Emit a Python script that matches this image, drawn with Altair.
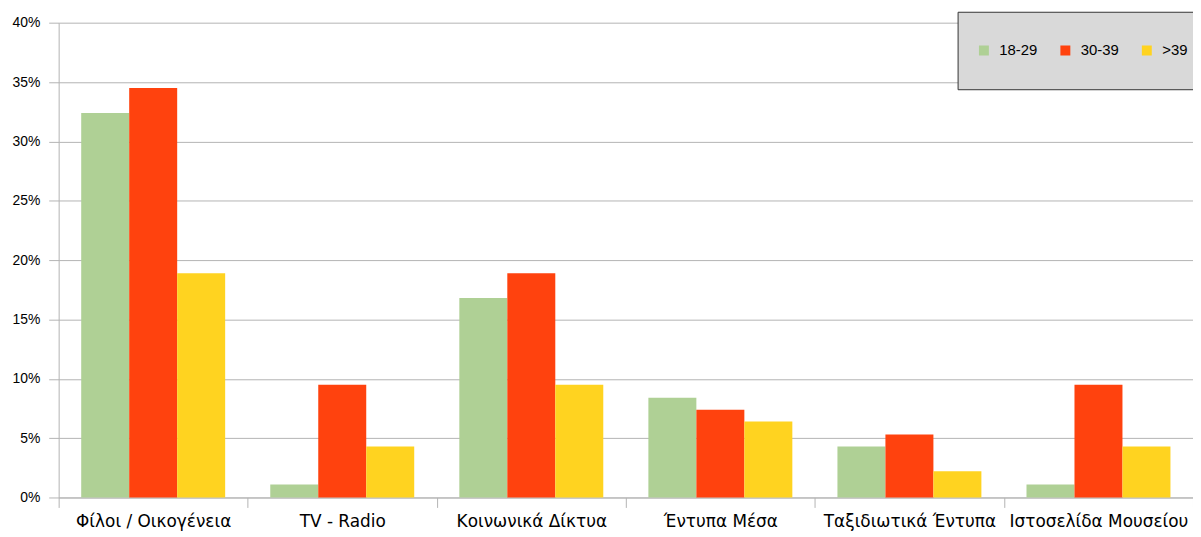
import altair as alt
import pandas as pd

categories = ["Φίλοι / Οικογένεια", "TV - Radio", "Κοινωνικά Δίκτυα",
              "Έντυπα Μέσα", "Ταξιδιωτικά Έντυπα", "Ιστοσελίδα Μουσείου"]
groups = ["18-29", "30-39", ">39"]
values_18_29 = [0.324, 0.011, 0.168, 0.084, 0.043, 0.011]
values_30_39 = [0.345, 0.095, 0.189, 0.074, 0.053, 0.095]
values_39p = [0.189, 0.043, 0.095, 0.064, 0.022, 0.043]
colors = ["#afd095", "#ff420e", "#ffd320"]
y_ticks = [0, 0.05, 0.10, 0.15, 0.20, 0.25, 0.30, 0.35, 0.40]

rows = []
for g, vals in zip(groups, [values_18_29, values_30_39, values_39p]):
    for c, v in zip(categories, vals):
        rows.append({"cat": c, "grp": g, "val": v})
df = pd.DataFrame(rows)

FONT = "Liberation Sans"

chart = alt.Chart(df).mark_bar().encode(
    x=alt.X("cat:N", sort=categories, title=None,
            scale=alt.Scale(paddingInner=0, paddingOuter=0),
            axis=alt.Axis(labelAngle=0, tickBand="extent", tickSize=10,
                          tickColor="#b3b3b3", domainColor="#b3b3b3",
                          labelFontSize=17, labelFont="DejaVu Sans",
                          labelColor="#000000", labelPadding=6, grid=False,
                          labelLimit=300)),
    xOffset=alt.XOffset("grp:N", sort=groups,
                        scale=alt.Scale(paddingInner=0, paddingOuter=0.47)),
    y=alt.Y("val:Q", title=None,
            scale=alt.Scale(domain=[0, 0.4], nice=False),
            axis=alt.Axis(values=y_ticks, format=".0%", tickSize=10,
                          tickColor="#b3b3b3", domainColor="#b3b3b3",
                          gridColor="#b3b3b3", labelFontSize=14, labelFont=FONT,
                          labelColor="#000000", labelPadding=9)),
    color=alt.Color("grp:N", sort=groups, title=None,
                    scale=alt.Scale(domain=groups, range=colors),
                    legend=alt.Legend(orient="none", legendX=905, legendY=-11,
                                      direction="horizontal", fillColor="#d9d9d9",
                                      strokeColor="#333333", padding=19,
                                      clipHeight=40, symbolType="square",
                                      symbolSize=100, symbolStrokeWidth=0,
                                      labelFontSize=15, labelFont=FONT,
                                      labelColor="#000000", labelOffset=8,
                                      columnPadding=20)),
).properties(
    width=1142, height=478,
    autosize=alt.AutoSizeParams(type="none"),
    padding={"left": 51, "top": 13, "right": 0, "bottom": 38},
).configure_view(stroke=None)

chart.save("out.html", embed_options={"renderer": "svg", "actions": False})
